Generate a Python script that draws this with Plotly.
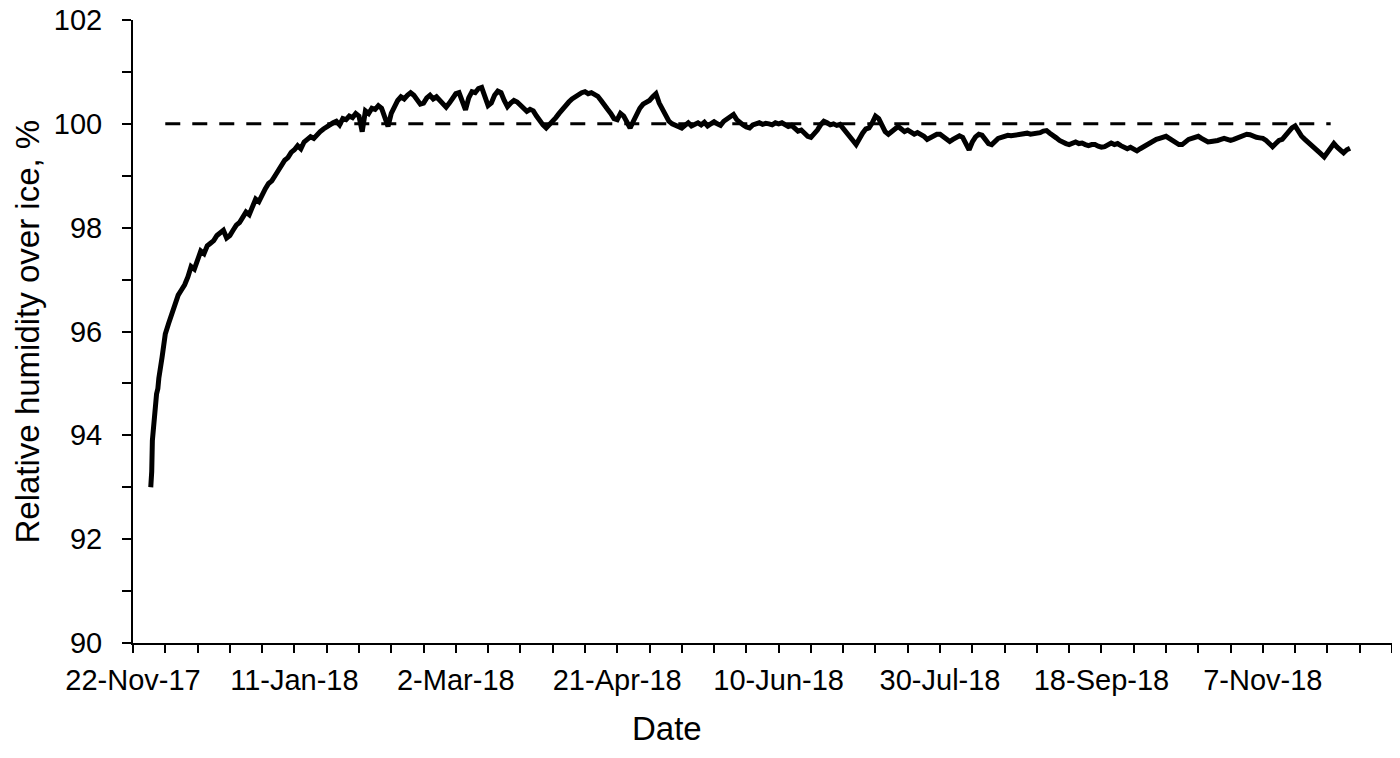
import pandas as pd
import plotly.graph_objects as go

# ---------------- data ----------------
axis_start = "2017-11-22"
axis_end = "2018-12-17"

# tick labels (every 50 days) and their dates
tick_dates = ["2017-11-22", "2018-01-11", "2018-03-02", "2018-04-21",
              "2018-06-10", "2018-07-30", "2018-09-18", "2018-11-07"]
tick_labels = ["22-Nov-17", "11-Jan-18", "2-Mar-18", "21-Apr-18",
               "10-Jun-18", "30-Jul-18", "18-Sep-18", "7-Nov-18"]

# first hours of the record (days after axis start)
early_days = [5.5, 5.8, 6.0, 6.3, 6.6, 6.9, 7.3, 7.7]
early_rh = [93.0, 93.3, 93.9, 94.1, 94.5, 94.65, 94.8, 94.9]

# daily readings starting at day 8 after axis start
daily_first_day = 8
daily_rh = [
    95.1, 95.5, 95.95, 96.15, 96.35, 96.55, 96.7, 96.8, 96.9, 97.05,
    97.25, 97.2, 97.4, 97.55, 97.5, 97.65, 97.7, 97.75, 97.85, 97.9,
    97.95, 97.8, 97.85, 97.95, 98.05, 98.1, 98.2, 98.3, 98.25, 98.4,
    98.55, 98.5, 98.65, 98.75, 98.85, 98.9, 99.0, 99.1, 99.2, 99.3,
    99.35, 99.45, 99.5, 99.58, 99.52, 99.65, 99.7, 99.75, 99.72, 99.8,
    99.85, 99.9, 99.95, 100.0, 100.02, 100.05, 99.98, 100.1, 100.08, 100.15,
    100.12, 100.2, 100.15, 99.85, 100.25, 100.2, 100.3, 100.28, 100.35, 100.3,
    100.1, 99.95, 100.2, 100.35, 100.45, 100.52, 100.48, 100.55, 100.6, 100.55,
    100.45, 100.38, 100.4, 100.5, 100.55, 100.48, 100.52, 100.45, 100.38, 100.32,
    100.4, 100.5, 100.58, 100.6, 100.4, 100.27, 100.5, 100.62, 100.6, 100.68,
    100.7, 100.55, 100.35, 100.4, 100.55, 100.63, 100.6, 100.45, 100.33, 100.4,
    100.45, 100.42, 100.35, 100.3, 100.24, 100.28, 100.25, 100.15, 100.05, 99.98,
    99.92, 99.98, 100.05, 100.12, 100.2, 100.28, 100.35, 100.42, 100.48, 100.52,
    100.58, 100.6, 100.62, 100.58, 100.6, 100.57, 100.53, 100.45, 100.38, 100.28,
    100.2, 100.1, 100.08, 100.2, 100.15, 100.02, 99.92, 100.05, 100.2, 100.3,
    100.38, 100.42, 100.45, 100.52, 100.58, 100.4, 100.27, 100.15, 100.05, 100.0,
    99.98, 99.95, 99.92, 99.97, 100.02, 99.96, 100.0, 100.02, 99.98, 100.03,
    99.96, 100.0, 100.04, 100.0, 99.97, 100.05, 100.1, 100.15, 100.18, 100.08,
    100.02, 99.98, 99.94, 99.92, 99.98, 100.0, 100.02, 99.99, 100.01, 100.0,
    99.98, 100.02, 100.0, 100.02, 99.99, 99.95, 99.97, 99.92, 99.86, 99.88,
    99.82, 99.76, 99.74, 99.8, 99.88, 99.98, 100.05, 100.02, 99.98, 100.0,
    99.97, 99.99, 99.92, 99.84, 99.75, 99.68, 99.6, 99.72, 99.82, 99.9,
    99.92, 100.02, 100.15, 100.1, 99.95, 99.85, 99.8, 99.86, 99.92, 99.95,
    99.9, 99.85, 99.88, 99.84, 99.8, 99.83, 99.8, 99.76, 99.7, 99.74,
    99.78, 99.8, 99.8, 99.75, 99.7, 99.66, 99.7, 99.74, 99.77, 99.74,
    99.6, 99.5, 99.65, 99.75, 99.8, 99.78, 99.7, 99.62, 99.6, 99.66,
    99.72, 99.74, 99.76, 99.78, 99.77, 99.78, 99.8, 99.79, 99.8, 99.82,
    99.8, 99.81, 99.8, 99.83, 99.86, 99.87, 99.82, 99.76, 99.73, 99.68,
    99.64, 99.62, 99.6, 99.63, 99.65, 99.62, 99.63, 99.6, 99.58, 99.6,
    99.6, 99.57, 99.55, 99.56, 99.6, 99.63, 99.6, 99.62, 99.58, 99.54,
    99.52, 99.55, 99.5, 99.48, 99.52, 99.56, 99.6, 99.62, 99.66, 99.7,
    99.72, 99.73, 99.76, 99.72, 99.68, 99.64, 99.6, 99.6, 99.66, 99.7,
    99.72, 99.74, 99.76, 99.72, 99.68, 99.65, 99.66, 99.66, 99.68, 99.7,
    99.72, 99.7, 99.68, 99.7, 99.73, 99.76, 99.78, 99.8, 99.79, 99.76,
    99.74, 99.73, 99.72, 99.68, 99.62, 99.56, 99.62, 99.68, 99.7, 99.78,
    99.86, 99.92, 99.96, 99.85, 99.76, 99.7, 99.65, 99.6, 99.55, 99.48,
    99.42, 99.36, 99.45, 99.55, 99.62, 99.55, 99.48, 99.44, 99.5, 99.53,
]

# saturation reference line (100 %)
ref_dates = ["2017-12-02", "2018-11-28"]
ref_rh = [100, 100]

# ---------------- build ----------------
t0 = pd.Timestamp(axis_start)
early_x = [t0 + pd.Timedelta(days=d) for d in early_days]
daily_x = [t0 + pd.Timedelta(days=daily_first_day + i) for i in range(len(daily_rh))]
x_all = early_x + daily_x
y_all = early_rh + daily_rh

FONT = "Arial, Liberation Sans, sans-serif"

fig = go.Figure()
fig.add_trace(go.Scatter(
    x=ref_dates, y=ref_rh, mode="lines",
    line=dict(color="black", width=3, dash="15px,12px"),
    showlegend=False, hoverinfo="skip"))
fig.add_trace(go.Scatter(
    x=x_all, y=y_all, mode="lines",
    line=dict(color="black", width=5),
    showlegend=False))

fig.update_layout(
    width=1384, height=742,
    margin=dict(l=125, r=0, t=12, b=107),
    paper_bgcolor="white", plot_bgcolor="white",
    font=dict(family=FONT, color="black"),
    xaxis=dict(
        type="date", range=[axis_start, axis_end], automargin=False,
        tickmode="array", tickvals=tick_dates, ticktext=tick_labels,
        ticks="outside", ticklen=8, tickwidth=2, tickcolor="black",
        minor=dict(ticks="outside", ticklen=8, tickwidth=2, tickcolor="black",
                   dtick=10 * 86400000, tick0=axis_start),
        showline=True, linecolor="black", linewidth=2,
        showgrid=False, zeroline=False,
        tickfont=dict(family=FONT, size=29, color="black"),
        ticklabelstandoff=2, ticklabeloverflow="allow",
    ),
    yaxis=dict(
        range=[90, 102], automargin=False,
        tickmode="linear", tick0=90, dtick=2,
        ticks="outside", ticklen=9, tickwidth=2, tickcolor="black",
        minor=dict(ticks="outside", ticklen=9, tickwidth=2, tickcolor="black",
                   dtick=1, tick0=90),
        showline=True, linecolor="black", linewidth=2,
        showgrid=False, zeroline=False,
        tickfont=dict(family=FONT, size=29, color="black"),
        ticklabelstandoff=14, ticklabeloverflow="allow",
    ),
    annotations=[
        dict(text="Date", xref="paper", yref="paper",
             x=(667 - 133) / 1259, y=(643 - 749) / 623,
             xanchor="center", yanchor="bottom", showarrow=False,
             font=dict(family=FONT, size=33, color="black")),
        dict(text="Relative humidity over ice, %", xref="paper", yref="paper",
             x=(27 - 133) / 1259, y=0.5, textangle=-90,
             xanchor="center", yanchor="middle", showarrow=False,
             font=dict(family=FONT, size=33, color="black")),
    ],
)

fig.write_html("out.html")
